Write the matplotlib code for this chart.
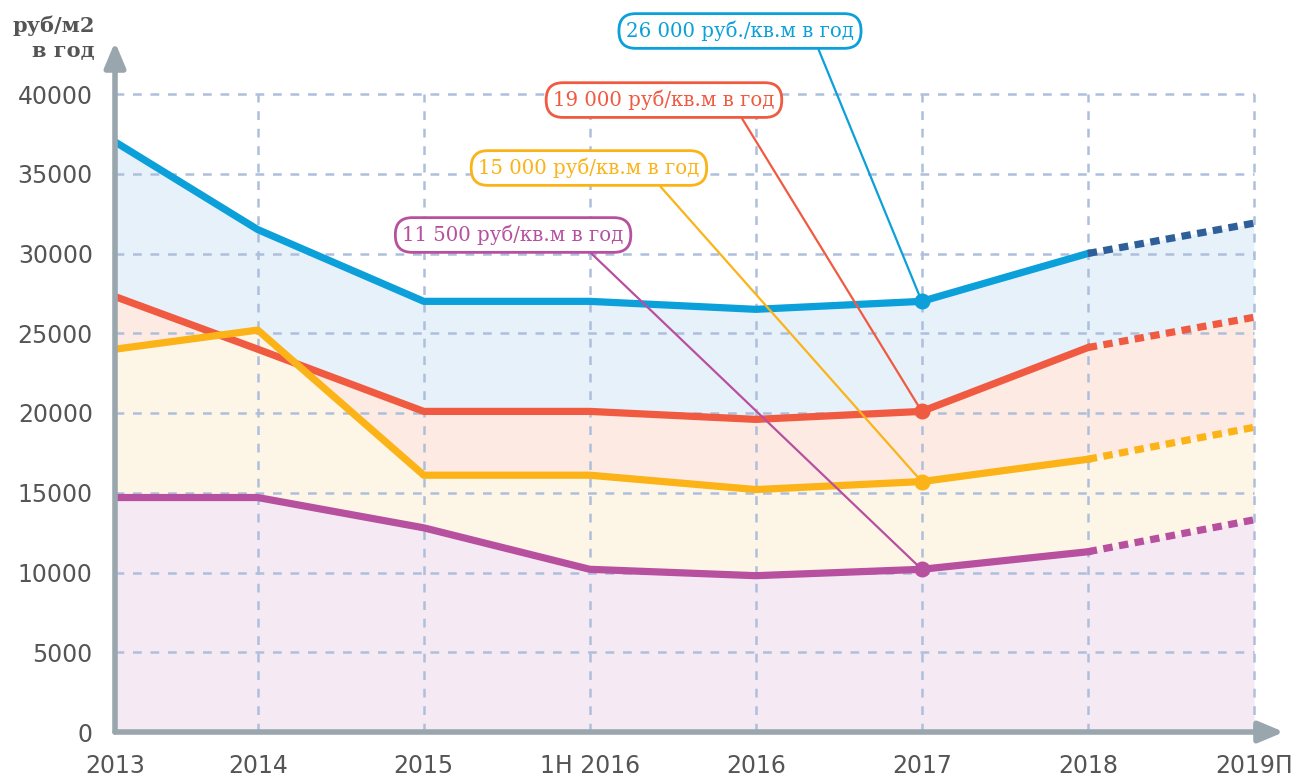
import numpy as np
import matplotlib
matplotlib.use('Agg')
import matplotlib.pyplot as plt

years = ['2013', '2014', '2015', '1H 2016', '2016', '2017', '2018', '2019П']
# 2013 sits a bit closer to 2014 than the other periods
xpos = [0, 0.86, 1.86, 2.86, 3.86, 4.86, 5.86, 6.86]

blue_vals = [37000, 31500, 27000, 27000, 26500, 27000, 30000, 31900]
red_vals = [27300, 24000, 20100, 20100, 19600, 20100, 24100, 26000]
yellow_vals = [24000, 25200, 16100, 16100, 15200, 15700, 17100, 19100]
purple_vals = [14700, 14700, 12800, 10200, 9800, 10200, 11300, 13300]

labels = ['26 000 руб./кв.м в год', '19 000 руб/кв.м в год',
          '15 000 руб/кв.м в год', '11 500 руб/кв.м в год']
yticks = [0, 5000, 10000, 15000, 20000, 25000, 30000, 35000, 40000]

series = [
    (blue_vals, '#0ba0da', '#e6f1fa', '#2f5f98'),
    (red_vals, '#f05a41', '#fdebe3', '#f05a41'),
    (yellow_vals, '#fbb318', '#fdf5e5', '#fbb318'),
    (purple_vals, '#b7509f', '#f5eaf3', '#b7509f'),
]
# where the callout boxes sit (data coords)
label_pos = [(3.765, 43950), (3.307, 39620), (2.855, 35360), (2.398, 31160)]
label_relx = [0.83, 0.83, 0.79, 0.815]

grid_col = '#aebfdc'
axis_col = '#9aa6ae'
text_col = '#555555'

# pixel layout: x=0 at 115px, 166px per period, y=0 at 732px, 40000 at 94px
px_x, px_y = 166, 638 / 40000
left, right, bottom, top = 115, 1284, 732, 42
fig = plt.figure(figsize=(13.03, 7.77), dpi=100)
ax = fig.add_axes([left / 1303, (777 - bottom) / 777, (right - left) / 1303, (bottom - top) / 777])
xmax = (right - left) / px_x
ymax = (bottom - top) / px_y
ax.set_xlim(0, xmax)
ax.set_ylim(0, ymax)
for s in ax.spines.values():
    s.set_visible(False)

# fills, each one down to zero, later ones on top
for i, (vals, col, fill, dotcol) in enumerate(series):
    ax.fill_between(xpos, vals, 0, color=fill, lw=0, zorder=1 + i)

# grid
ax.hlines(yticks[1:], 0, xpos[-1], colors=grid_col, linestyles=(0, (3.5, 3.5)), lw=1.8, zorder=6)
ax.vlines(xpos[1:], 0, 40000, colors=grid_col, linestyles=(0, (3.5, 3.5)), lw=1.8, zorder=6)

# lines
for i, (vals, col, fill, dotcol) in enumerate(series):
    ax.plot(xpos[:-1], vals[:-1], color=col, lw=5.2, solid_joinstyle='round', zorder=10 + i)
    ax.plot(xpos[-2:], vals[-2:], color=dotcol, lw=5.2, linestyle=(0, (1.3, 0.9)),
            dash_capstyle='butt', zorder=10 + i)
    ax.plot(xpos[5], vals[5], 'o', color=col, ms=10.5, zorder=20 + i)

# callouts
for i, (vals, col, fill, dotcol) in enumerate(series):
    ax.annotate(labels[i], xy=(xpos[5], vals[5]), xytext=label_pos[i],
                ha='center', va='center', fontsize=14.2, color=col, family='DejaVu Serif',
                annotation_clip=False, zorder=30,
                bbox=dict(boxstyle='round,pad=0.36,rounding_size=0.85', fc='white', ec=col, lw=2),
                arrowprops=dict(arrowstyle='-', color=col, lw=1.6, relpos=(label_relx[i], 0),
                                shrinkA=0, shrinkB=0))

# axes with arrows
ax.annotate('', xy=(xmax, 0), xytext=(0, 0), annotation_clip=False,
            arrowprops=dict(arrowstyle='-|>,head_length=1.0,head_width=0.42', color=axis_col,
                            lw=4, shrinkA=0, shrinkB=0, mutation_scale=15), zorder=40)
ax.annotate('', xy=(0, ymax), xytext=(0, 0), annotation_clip=False,
            arrowprops=dict(arrowstyle='-|>,head_length=1.0,head_width=0.42', color=axis_col,
                            lw=4, shrinkA=0, shrinkB=0, mutation_scale=15), zorder=40)

ax.set_xticks(xpos)
ax.set_xticklabels(years)
ax.set_yticks(yticks)
ax.set_yticklabels([str(v) for v in yticks])
ax.tick_params(axis='both', length=0, labelsize=17, labelcolor=text_col)
ax.tick_params(axis='y', pad=16)
ax.tick_params(axis='x', pad=16)

fig.text(95 / 1303, 1 - 26 / 777, 'руб/м2', ha='right', va='center', fontsize=15,
         fontweight='bold', color=text_col, family='DejaVu Serif')
fig.text(95 / 1303, 1 - 51 / 777, 'в год', ha='right', va='center', fontsize=15,
         fontweight='bold', color=text_col, family='DejaVu Serif')

fig.savefig('out.png', dpi=100)
